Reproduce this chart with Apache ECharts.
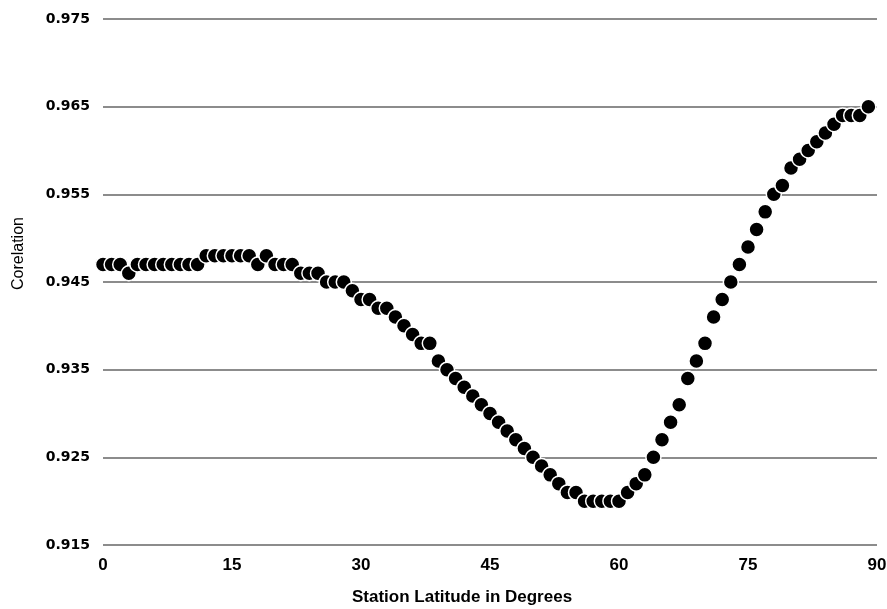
<!DOCTYPE html>
<html>
<head>
<meta charset="utf-8">
<script src="https://cdn.jsdelivr.net/npm/echarts@6/dist/echarts.min.js"></script>
<style>
  html, body { margin: 0; padding: 0; background: #fff; }
  #chart { width: 887px; height: 609px; }
</style>
</head>
<body>
<div id="chart"></div>
<script>
// station latitude (degrees), one point per degree
const latitudes = [];
for (let i = 0; i < 90; i++) latitudes.push(i);

// correlation
const correlation = [
  0.947, 0.947, 0.947, 0.946, 0.947, 0.947, 0.947, 0.947, 0.947, 0.947,
  0.947, 0.947, 0.948, 0.948, 0.948, 0.948, 0.948, 0.948, 0.947, 0.948,
  0.947, 0.947, 0.947, 0.946, 0.946, 0.946, 0.945, 0.945, 0.945, 0.944,
  0.943, 0.943, 0.942, 0.942, 0.941, 0.940, 0.939, 0.938, 0.938, 0.936,
  0.935, 0.934, 0.933, 0.932, 0.931, 0.930, 0.929, 0.928, 0.927, 0.926,
  0.925, 0.924, 0.923, 0.922, 0.921, 0.921, 0.920, 0.920, 0.920, 0.920,
  0.920, 0.921, 0.922, 0.923, 0.925, 0.927, 0.929, 0.931, 0.934, 0.936,
  0.938, 0.941, 0.943, 0.945, 0.947, 0.949, 0.951, 0.953, 0.955, 0.956,
  0.958, 0.959, 0.960, 0.961, 0.962, 0.963, 0.964, 0.964, 0.964, 0.965
];

const xTicks = [0, 15, 30, 45, 60, 75, 90];
const yTicks = [0.915, 0.925, 0.935, 0.945, 0.955, 0.965, 0.975];

// y axis runs in thousandths above the lowest tick so ticks start at 0
const yBase = yTicks[0];
const toAxis = v => Math.round((v - yBase) * 1000);

const narrow = "'Liberation Sans Narrow', 'Liberation Sans', Arial, sans-serif";

let myChart = echarts.init(document.getElementById('chart'));
myChart.setOption({
  animation: false,
  backgroundColor: '#fff',
  grid: { left: 103, right: 10, top: 19, bottom: 64, outerBoundsMode: 'none' },
  graphic: [
    {
      type: 'text',
      left: 352,
      top: 589,
      style: { text: 'Station Latitude in Degrees', font: 'bold 17px ' + narrow, fill: '#000' }
    },
    {
      type: 'text',
      x: 11,
      y: 290,
      rotation: Math.PI / 2,
      style: { text: 'Corelation', font: "16px 'Liberation Sans', Arial, sans-serif", fill: '#000' }
    }
  ],
  xAxis: {
    type: 'value',
    min: xTicks[0],
    max: xTicks[xTicks.length - 1],
    interval: 15,
    axisLine: { show: false },
    axisTick: { show: false },
    splitLine: { show: false },
    axisLabel: { fontFamily: narrow, fontWeight: 'bold', fontSize: 17, color: '#000', margin: 12 }
  },
  yAxis: {
    type: 'value',
    min: 0,
    max: toAxis(yTicks[yTicks.length - 1]),
    interval: 10,
    axisLine: { show: false },
    axisTick: { show: false },
    splitLine: { show: true, lineStyle: { color: '#8c8c8c', width: 2 } },
    axisLabel: {
      fontFamily: "'DejaVu Sans', sans-serif",
      fontWeight: 'bold',
      fontSize: 14,
      color: '#000',
      margin: 13,
      formatter: v => (yBase + v / 1000).toFixed(3)
    }
  },
  series: [{
    type: 'scatter',
    symbol: 'circle',
    symbolSize: 15,
    itemStyle: { color: '#000', borderColor: '#fff', borderWidth: 1.5, opacity: 1 },
    data: latitudes.map((x, i) => [x, toAxis(correlation[i])])
  }]
});
</script>
</body>
</html>
